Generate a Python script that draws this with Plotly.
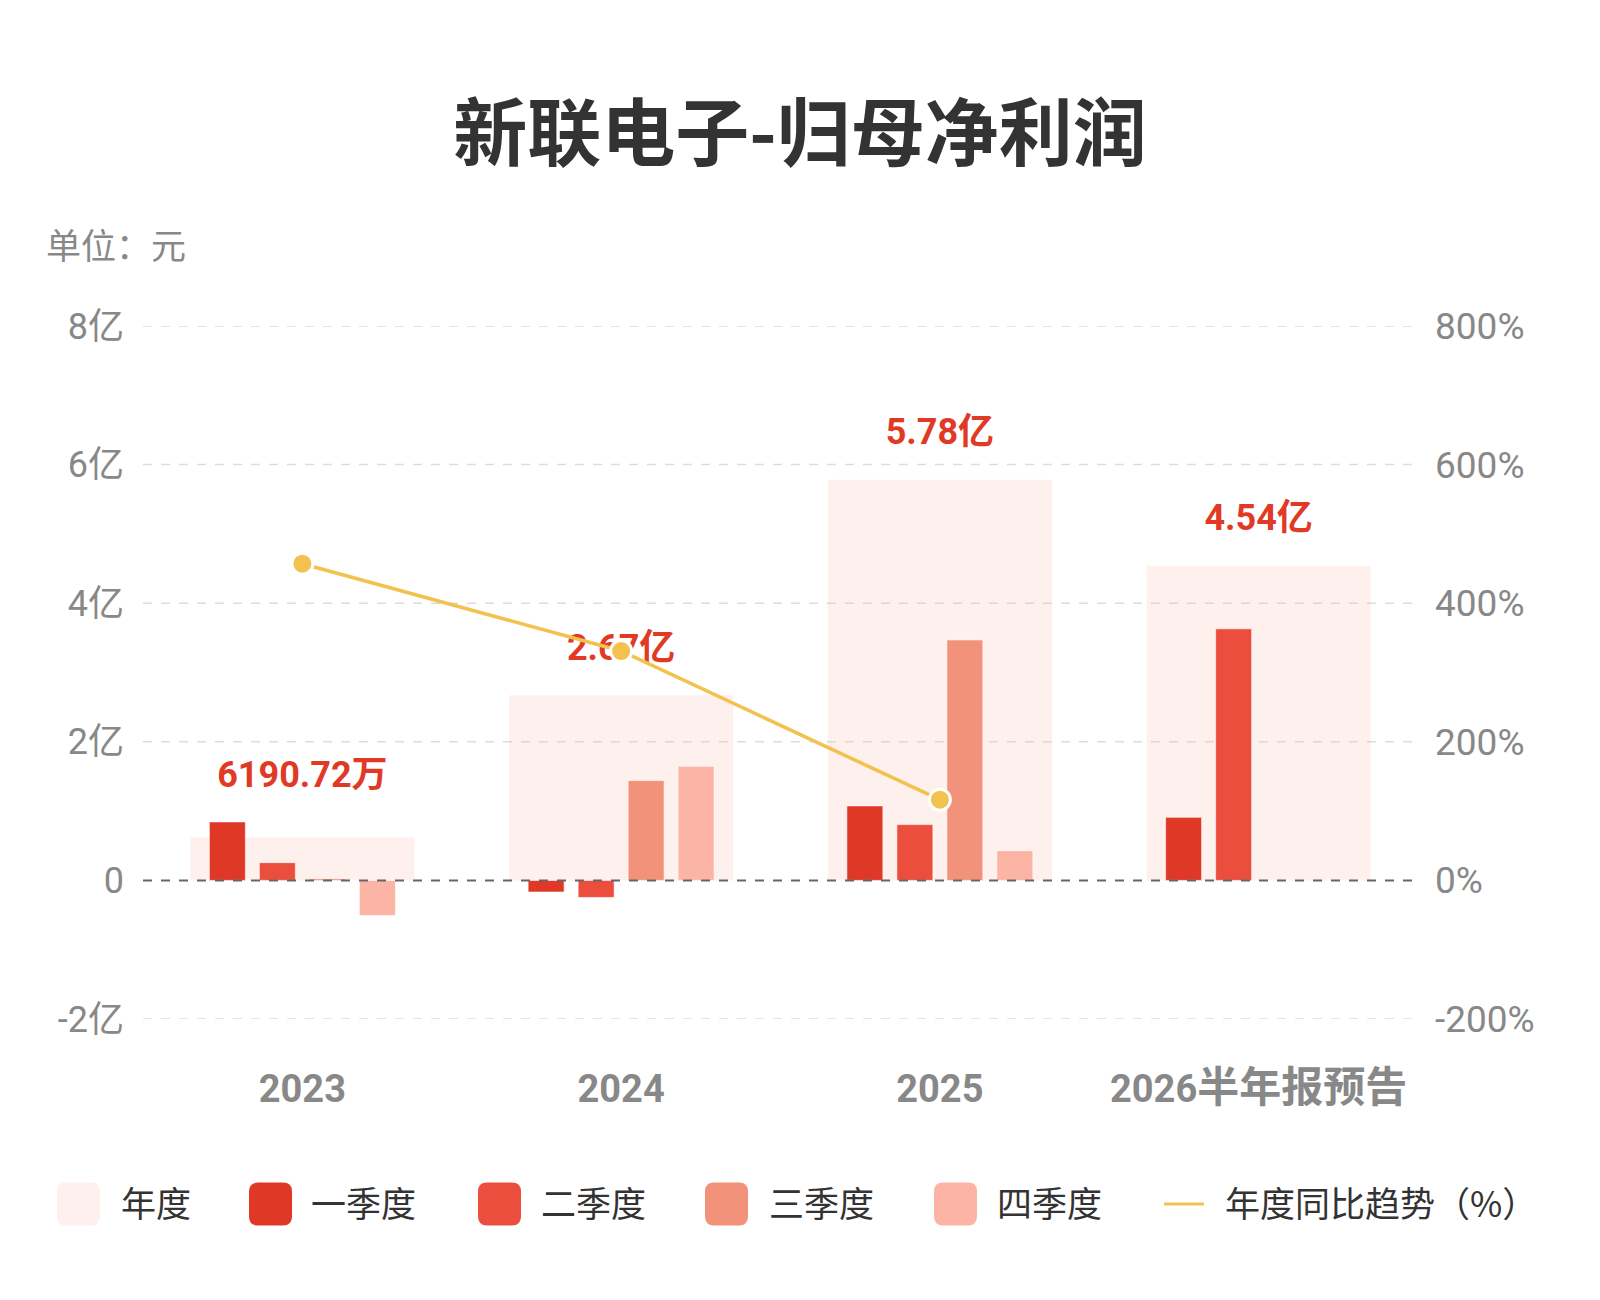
import plotly.graph_objects as go

# ---------------- data ----------------
categories = ["2023", "2024", "2025", "2026半年报预告"]
annual = [61907200, 267000000, 578000000, 454000000]          # 元
annual_labels = ["6190.72万", "2.67亿", "5.78亿", "4.54亿"]
q1 = [84400000, -16800000, 107500000, 91000000]
q2 = [25600000, -24600000, 80500000, 363000000]
q3 = [2500000, 144000000, 347000000, None]
q4 = [-50600000, 164700000, 42900000, None]
yoy = [457, 331, 116.5, None]                                 # %

y_tick_vals = [-2e8, 0, 2e8, 4e8, 6e8, 8e8]
y_tick_text = ["-2亿", "0", "2亿", "4亿", "6亿", "8亿"]
y2_tick_vals = [-200, 0, 200, 400, 600, 800]
y2_tick_text = ["-200%", "0%", "200%", "400%", "600%", "800%"]

series_names = ["年度", "一季度", "二季度", "三季度", "四季度"]
line_name = "年度同比趋势（%）"

# ---------------- style ----------------
C_ANNUAL = "#FEF0EC"
C_ANNUAL_T = "rgba(250,180,160,0.2)"
C_Q = ["#E03826", "#EC4E3E", "#F3927A", "#FCB4A4"]
C_LINE = "#F2C14E"
C_LABEL = "#E03A26"
GRAY = "#888888"
DARK = "#333333"
FONT = "Roboto, 'Noto Sans CJK SC', sans-serif"
CJK = "'Noto Sans CJK SC', sans-serif"

W, H = 1600, 1300
L, R, T, B = 143, 1418, 326, 1019

def px_x(x):
    return (x - L) / (R - L)

def px_y(y):
    return (B - y) / (B - T)

fig = go.Figure()

# annual background bars (semi-transparent so gridlines show through)
fig.add_trace(go.Bar(
    x=categories, y=annual, width=0.703, offset=-0.3515,
    marker=dict(color=C_ANNUAL_T, line=dict(width=0)),
    name=series_names[0], showlegend=False, hoverinfo="skip",
))

qw = 0.113
centers = [-0.2353, -0.0784, 0.0784, 0.2353]
for vals, col, c, nm in zip([q1, q2, q3, q4], C_Q, centers, series_names[1:]):
    fig.add_trace(go.Bar(
        x=categories, y=vals, width=qw, offset=c - qw / 2,
        marker=dict(color=col, line=dict(width=1, color="rgba(255,255,255,0.6)")),
        name=nm, showlegend=False,
    ))

# value labels (text trace, drawn beneath the line)
label_gap = 0.64e8
tops = []
for i in range(len(categories)):
    vals = [annual[i]] + [s[i] for s in (q1, q2, q3, q4) if s[i] is not None]
    tops.append(max(vals) + label_gap)
fig.add_trace(go.Scatter(
    x=categories, y=tops, mode="text", text=annual_labels,
    textposition="middle center",
    textfont=dict(family=FONT, size=36, color=C_LABEL, weight="bold"),
    showlegend=False, hoverinfo="skip",
))

# yoy line
fig.add_trace(go.Scatter(
    x=categories, y=yoy, yaxis="y2", mode="lines+markers",
    line=dict(color=C_LINE, width=3.5),
    marker=dict(size=21, color=C_LINE, line=dict(color="white", width=3)),
    name=line_name, showlegend=False, connectgaps=False,
))

# gridlines (dashed, beneath traces)
for v in y_tick_vals:
    if v == 0:
        continue
    fig.add_shape(type="line", xref="paper", yref="y", x0=0, x1=1, y0=v, y1=v,
                  line=dict(color="#DDDDDD", width=1.5, dash="dash"), layer="below")

# zero line
fig.add_shape(type="line", xref="paper", yref="y", x0=0, x1=1, y0=0, y1=0,
              line=dict(color="#666666", width=2, dash="dash"), layer="above")

# custom legend
def rounded_rect(x0, y0, x1, y1, r):
    pts = [
        ("M", [(x0 + r, y0)]), ("L", [(x1 - r, y0)]), ("Q", [(x1, y0), (x1, y0 + r)]),
        ("L", [(x1, y1 - r)]), ("Q", [(x1, y1), (x1 - r, y1)]),
        ("L", [(x0 + r, y1)]), ("Q", [(x0, y1), (x0, y1 - r)]),
        ("L", [(x0, y0 + r)]), ("Q", [(x0, y0), (x0 + r, y0)]),
    ]
    s = ""
    for cmd, ps in pts:
        s += cmd + " " + " ".join(f"{px_x(a):.5f},{px_y(b):.5f}" for a, b in ps) + " "
    return s + "Z"

legend_swatch_x = [57, 249, 478, 705, 934]
legend_text_x = [119, 309, 539, 767, 995]
leg_y = 1204
leg_text_y = 1201
for sx, tx, col, nm in zip(legend_swatch_x, legend_text_x, [C_ANNUAL] + C_Q, series_names):
    fig.add_shape(type="path", xref="paper", yref="paper",
                  path=rounded_rect(sx, leg_y - 21.5, sx + 43, leg_y + 21.5, 9),
                  fillcolor=col, line=dict(width=0))
    fig.add_annotation(xref="paper", yref="paper", x=px_x(tx), y=px_y(leg_text_y),
                       text=nm, showarrow=False, xanchor="left", yanchor="middle",
                       font=dict(family=CJK, size=35, color=DARK))
fig.add_shape(type="line", xref="paper", yref="paper",
              x0=px_x(1164), x1=px_x(1204), y0=px_y(leg_y), y1=px_y(leg_y),
              line=dict(color=C_LINE, width=3))
fig.add_annotation(xref="paper", yref="paper", x=px_x(1223), y=px_y(leg_text_y),
                   text=line_name, showarrow=False, xanchor="left", yanchor="middle",
                   font=dict(family=CJK, size=35, color=DARK))

# unit label
fig.add_annotation(xref="paper", yref="paper", x=px_x(44), y=px_y(244),
                   text="单位：元", showarrow=False, xanchor="left", yanchor="middle",
                   font=dict(family=CJK, size=35, color=GRAY))

x_tick_text = [c if not c.startswith("2026") else
               "2026<span style='font-size:42px'>半年报预告</span>" for c in categories]

fig.update_layout(
    width=W, height=H,
    margin=dict(l=L, r=W - R, t=T, b=H - B),
    paper_bgcolor="white", plot_bgcolor="white",
    barmode="overlay",
    showlegend=False,
    title=dict(text="新联电子-归母净利润", x=0.5, xanchor="center",
               y=1 - 134 / H, yanchor="middle", yref="container",
               font=dict(family=CJK, size=74, color=DARK, weight="bold")),
    xaxis=dict(type="category", showgrid=False, zeroline=False, showline=False,
               ticks="", ticklabelstandoff=44,
               tickvals=categories, ticktext=x_tick_text,
               tickfont=dict(family=FONT, size=38, color=GRAY, weight="bold"),
               range=[-0.5, 3.5]),
    yaxis=dict(range=[-2e8, 8e8], tickvals=y_tick_vals, ticktext=y_tick_text,
               showgrid=False, zeroline=False, showline=False, ticks="",
               ticklabelstandoff=18,
               tickfont=dict(family=FONT, size=36, color=GRAY)),
    yaxis2=dict(range=[-200, 800], tickvals=y2_tick_vals, ticktext=y2_tick_text,
                overlaying="y", side="right", showgrid=False, zeroline=False,
                showline=False, ticks="", ticklabelstandoff=16,
                tickfont=dict(family=FONT, size=37, color=GRAY)),
)

fig.write_html("out.html")
